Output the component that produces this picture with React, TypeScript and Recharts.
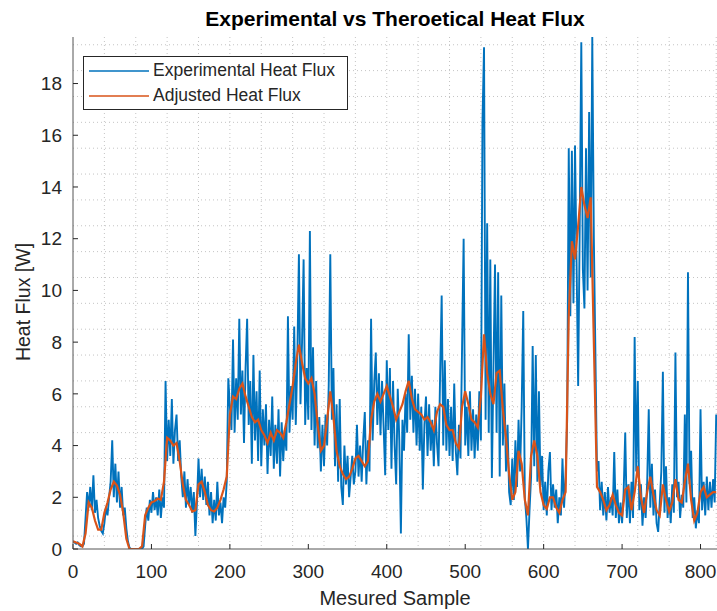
import { LineChart, Line, XAxis, YAxis, CartesianGrid, Legend } from "recharts";

// experimental heat flux, one value every 2 samples (0, 2, 4 ... 820)
const experimentalFlux = [
  0.3, 0.25, 0.2, 0.25, 0.15, 0.1, 0.1, 0.2, 1.2, 2.2,
  1.6, 2.4, 1.5, 2.85, 1.4, 1.9, 1.2, 0.9, 0.7, 0.6,
  1.0, 1.6, 1.3, 2.0, 2.6, 4.2, 2.0, 3.3, 1.8, 3.0,
  1.6, 2.4, 1.3, 1.6, 0.8, 0.3, 0.05, 0, 0, 0,
  0, 0, 0, 0, 0, 0.1, 0.9, 1.6, 1.1, 1.9,
  1.4, 2.2, 1.5, 2.0, 1.3, 2.3, 1.2, 2.0, 1.6, 6.5,
  3.4, 5.0, 3.6, 5.8, 3.3, 4.6, 5.2, 3.4, 4.2, 2.8,
  2.0, 3.0, 1.6, 2.7, 1.7, 2.4, 1.4, 2.2, 0.5, 1.8,
  3.5, 2.0, 3.1, 1.9, 2.8, 1.7, 2.6, 1.3, 2.2, 1.0,
  1.9, 1.1, 2.6, 1.3, 1.8, 1.0, 2.0, 1.6, 2.6, 6.6,
  5.5, 4.6, 8.1, 4.5, 6.6, 5.0, 8.9, 5.2, 6.9, 4.1,
  7.0, 8.9, 4.8, 6.5, 3.3, 7.5, 4.2, 6.1, 3.4, 6.9,
  3.2, 5.4, 4.0, 5.6, 2.9, 5.0, 3.6, 5.9, 3.1, 4.8,
  3.3, 5.4, 2.8, 4.9, 3.4, 4.6, 3.8, 9.0, 4.5, 6.3,
  5.0, 8.6, 4.8, 7.4, 11.4, 5.6, 8.0, 11.2, 4.8, 7.0,
  5.0, 12.3, 4.6, 7.8, 4.0, 6.5, 3.9, 5.1, 3.0, 4.8,
  3.2, 5.2, 4.0, 6.3, 11.4, 5.0, 7.0, 3.2, 5.6, 2.6,
  5.8, 2.4, 1.7, 4.0, 2.5, 3.6, 2.0, 2.8, 3.6, 2.5,
  3.0, 4.8, 2.8, 4.0, 2.6, 4.2, 5.3, 2.5, 4.2, 3.0,
  8.9, 4.2, 6.4, 7.6, 4.8, 6.8, 4.4, 6.5, 4.7, 2.85,
  7.3, 4.6, 7.0, 3.1, 6.5, 4.0, 2.5, 6.2, 4.2, 0.6,
  5.0, 3.8, 6.0, 4.5, 8.3, 5.0, 6.7, 4.5, 6.2, 4.0,
  6.0, 3.8, 5.5, 2.3, 4.8, 5.9, 3.6, 5.6, 3.8, 5.0,
  3.2, 5.5, 4.1, 3.2, 6.7, 9.8, 4.0, 7.3, 3.8, 5.8,
  3.6, 5.5, 3.4, 6.4, 3.8, 2.85, 4.8, 3.5, 7.8, 12.0,
  4.0, 5.5, 3.6, 6.1, 3.8, 5.4, 3.5, 5.2, 3.8, 6.1,
  4.2, 16.5, 19.4, 5.0, 12.6, 4.5, 11.2, 2.75, 7.0, 11.0,
  4.5, 10.7, 2.8, 9.8, 4.0, 6.4, 3.0, 4.8, 2.2, 1.7,
  3.5, 1.9, 4.2, 2.4, 5.0, 3.0, 5.5, 9.2, 2.0, 1.2,
  0.0, 1.5, 2.8, 7.85, 3.2, 7.5, 2.6, 6.1, 2.4, 3.6,
  1.5, 2.6, 1.3, 3.0, 3.75, 1.5, 2.5, 1.6, 2.3, 1.0,
  2.0, 1.3, 3.5, 1.6, 2.8, 5.0, 15.5, 9.0, 15.4, 9.5,
  15.6, 11.0, 6.3, 12.5, 19.6, 10.8, 9.3, 15.5, 10.0, 16.9,
  10.5, 19.8, 12.0, 7.5, 3.0, 3.4, 1.5, 2.6, 1.3, 2.2,
  1.1, 2.4, 1.4, 2.0, 1.3, 3.75, 1.2, 2.3, 1.0, 1.8,
  1.0, 2.2, 4.5, 1.2, 2.5, 1.0, 2.6, 1.2, 8.2, 3.0,
  6.5, 1.5, 2.5, 0.9, 2.0, 1.2, 2.6, 5.4, 1.6, 3.3,
  1.3, 2.3, 1.0, 0.66, 1.8, 3.0, 6.85, 1.4, 3.2, 1.2,
  2.0, 1.0, 2.5, 1.4, 7.6, 2.0, 2.6, 1.2, 2.1, 1.6,
  5.2, 1.8, 10.7, 2.5, 3.8, 1.2, 2.0, 0.8, 1.5, 1.0,
  5.4, 1.5, 2.6, 1.3, 2.8, 1.5, 2.6, 1.6, 2.7, 1.8,
  5.2,
];

// adjusted heat flux, one value every 4 samples (0, 4, 8 ... 820)
const adjustedFlux = [
  0.3, 0.25, 0.2, 0.1, 0.6, 1.8, 1.6, 1.1, 0.75, 0.75,
  1.4, 1.8, 2.3, 2.6, 2.45, 2.1, 1.4, 0.4, 0, 0,
  0, 0, 0.1, 1.3, 1.6, 1.8, 1.85, 1.95, 1.9, 2.6,
  4.3, 4.2, 4.0, 4.1, 3.4, 2.5, 1.9, 1.7, 1.45, 1.5,
  2.5, 2.6, 2.2, 1.7, 1.5, 1.45, 1.6, 1.9, 2.3, 2.8,
  5.2, 5.9, 5.8, 6.2, 6.4, 5.9, 5.5, 5.1, 4.9, 5.0,
  4.6, 4.4, 4.1, 4.5, 4.2, 4.6, 4.5, 4.3, 4.9, 5.6,
  6.3, 7.2, 7.9, 7.2, 6.6, 6.4, 6.6, 6.0, 4.8, 3.8,
  4.0, 5.0, 6.1, 5.1, 3.8, 3.2, 2.9, 2.7, 2.8, 3.1,
  3.5, 3.6, 3.4, 3.2, 3.4, 5.0, 5.7, 6.0, 5.7, 6.0,
  6.3, 5.9, 5.5, 5.0, 5.3, 5.6, 6.1, 6.5, 5.8, 5.4,
  5.3, 5.2, 5.0, 5.1, 4.9, 4.6, 5.3, 5.6, 5.5, 4.8,
  4.6, 4.6, 4.1, 3.9, 5.5, 6.1, 5.6, 5.0, 4.9, 4.7,
  5.9, 8.3, 6.8, 6.0, 5.6, 6.8, 6.9, 5.4, 4.3, 2.9,
  1.9, 2.2, 3.8, 3.3, 1.9, 1.3, 3.6, 4.2, 3.6, 2.2,
  1.7, 1.55, 2.0, 2.0, 1.6, 1.4, 1.9, 2.2, 9.0, 11.9,
  11.2, 12.5, 14.0, 13.3, 12.8, 13.6, 8.0, 2.4, 2.2, 1.9,
  1.5, 1.7, 2.1, 1.7, 1.4, 1.3, 2.3, 2.4, 1.5, 2.2,
  3.2, 2.0, 1.4, 2.2, 2.8, 2.1, 1.5, 1.3, 2.5, 1.9,
  1.45, 1.8, 2.7, 1.9, 1.8, 2.6, 3.3, 1.9, 1.1, 1.4,
  2.2, 2.4, 2.0, 2.1, 2.2, 2.2,
];

const EXP_STEP = 2;
const ADJ_STEP = 4;
const xTicks = [0, 100, 200, 300, 400, 500, 600, 700, 800];
const yTicks = [0, 2, 4, 6, 8, 10, 12, 14, 16, 18];
const X_MAX = 821;
const Y_MAX = 19.8;
const seriesNames = ["Experimental Heat Flux", "Adjusted Heat Flux"];

const FONT = '"Liberation Sans", Arial, Helvetica, sans-serif';
const TEXT = "#262626";
const BLUE = "#0072BD";
const ORANGE = "#D95319";

// dotted minor grid (every 20 samples / 0.5 W)
const gridX = Array.from({ length: 41 }, (_, i) => (i + 1) * 20);
const gridY = Array.from({ length: 39 }, (_, i) => (i + 1) * 0.5);

const expData = experimentalFlux.map((v, i) => ({ sample: i * EXP_STEP, flux: v }));
const adjData = adjustedFlux.map((v, i) => ({ sample: i * ADJ_STEP, flux: v }));

function LegendBox({ payload }: any) {
  const rows = [...((payload || []) as { value: string; color: string }[])].sort(
    (a, b) => seriesNames.indexOf(a.value) - seriesNames.indexOf(b.value)
  );
  return (
    <div
      style={{
        width: 265,
        height: 54,
        boxSizing: "border-box",
        border: "1px solid #262626",
        background: "#fff",
        paddingTop: 1,
        fontFamily: FONT,
        fontSize: 17.5,
        color: TEXT,
      }}
    >
      {rows.map((r) => (
        <div key={r.value} style={{ display: "flex", alignItems: "center", height: 25 }}>
          <svg width={69} height={4} style={{ flex: "none" }}>
            <line x1={5} x2={65} y1={2} y2={2} stroke={r.color} strokeWidth={1.6} />
          </svg>
          <span style={{ whiteSpace: "nowrap", lineHeight: 1 }}>{r.value}</span>
        </div>
      ))}
    </div>
  );
}

export default function App() {
  return (
    <div style={{ position: "absolute", left: 0, top: 0, width: 717, height: 611, background: "#fff" }}>
      <LineChart width={717} height={611} margin={{ top: 37, right: 0, bottom: 0, left: 0 }}>
        <CartesianGrid
          stroke="#c4c4c4"
          strokeDasharray="1 3"
          verticalValues={gridX}
          horizontalValues={gridY}
        />
        <XAxis
          dataKey="sample"
          type="number"
          domain={[0, X_MAX]}
          ticks={xTicks}
          allowDataOverflow
          height={62}
          tickSize={-5}
          tickMargin={21}
          axisLine={{ stroke: "#555" }}
          tickLine={{ stroke: TEXT }}
          tick={{ fill: TEXT, fontSize: 19, fontFamily: FONT }}
        />
        <YAxis
          type="number"
          domain={[0, Y_MAX]}
          ticks={yTicks}
          allowDataOverflow
          width={73}
          tickSize={-5}
          tickMargin={16}
          axisLine={{ stroke: "#555" }}
          tickLine={{ stroke: TEXT }}
          tick={{ fill: TEXT, fontSize: 19, fontFamily: FONT }}
        />
        <Line
          data={expData}
          dataKey="flux"
          name={seriesNames[0]}
          stroke={BLUE}
          strokeWidth={1.9}
          dot={false}
          isAnimationActive={false}
        />
        <Line
          data={adjData}
          dataKey="flux"
          name={seriesNames[1]}
          stroke={ORANGE}
          strokeWidth={2.2}
          dot={false}
          isAnimationActive={false}
        />
        <Legend
          layout="horizontal"
          verticalAlign="middle"
          align="center"
          content={LegendBox}
          wrapperStyle={{ left: 83, top: 56, width: 265, height: 54 }}
        />
      </LineChart>
      <div
        style={{
          position: "absolute",
          left: 73,
          width: 644,
          top: 8,
          textAlign: "center",
          fontFamily: FONT,
          fontWeight: "bold",
          fontSize: 21,
          lineHeight: "22px",
          color: "#000",
        }}
      >
        Experimental vs Theroetical Heat Flux
      </div>
      <div
        style={{
          position: "absolute",
          left: 73,
          width: 644,
          top: 588,
          textAlign: "center",
          fontFamily: FONT,
          fontSize: 20,
          lineHeight: "21px",
          color: TEXT,
        }}
      >
        Mesured Sample
      </div>
      <div
        style={{
          position: "absolute",
          left: 23,
          top: 302,
          transform: "translate(-50%, -50%) rotate(-90deg)",
          whiteSpace: "nowrap",
          fontFamily: FONT,
          fontSize: 19.5,
          lineHeight: "20px",
          color: TEXT,
        }}
      >
        Heat Flux [W]
      </div>
    </div>
  );
}
